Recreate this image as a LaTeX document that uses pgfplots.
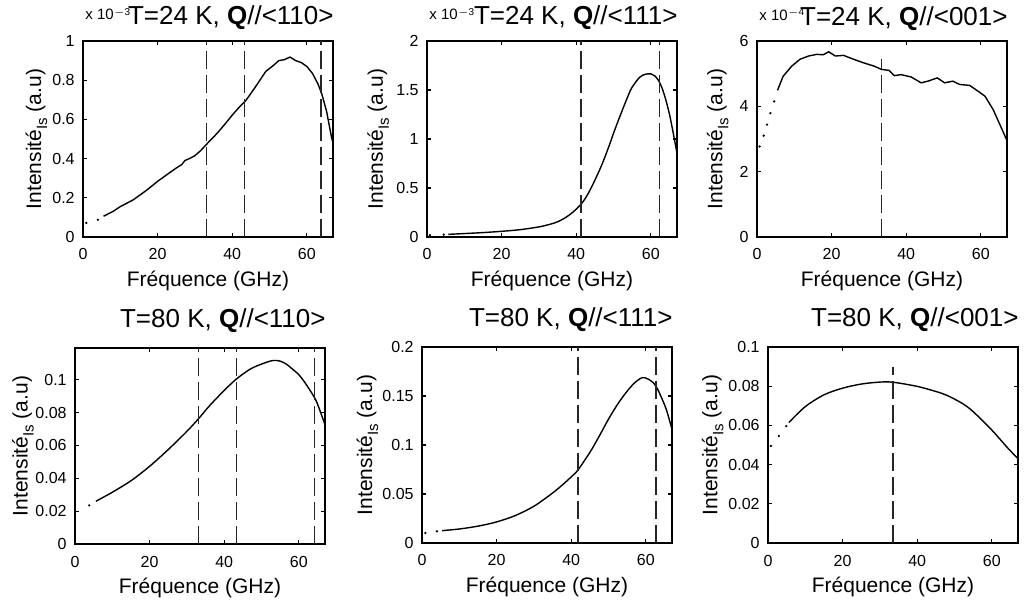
\documentclass[border=0pt]{standalone}
\usepackage{fontspec}
\setmainfont{Liberation Sans}
\usepackage{pgfplots}
\pgfplotsset{compat=1.18}
\pgfplotsset{
  mat/.style={
    scale only axis, width=125pt, height=98pt, anchor=south west,
    clip mode=individual,
    xmin=0, xmax=67, xtick={0,20,40,60}, xticklabels={0,20,40,60},
    tick align=inside, major tick length=2pt,
    axis line style={line width=0.7pt},
    every tick/.style={black, line width=0.6pt},
    /pgf/number format/assume math mode=true,
    tick label style={font=\fontsize{8}{9}\selectfont},
    xticklabel style={anchor=base, yshift=-11.5pt},
    yticklabel style={anchor=east, inner sep=0pt, xshift=-4pt},
    label style={font=\fontsize{10.5}{12}\selectfont},
    xlabel={Fréquence (GHz)},
    xlabel style={at={(axis description cs:0.5,-0.255)}, anchor=base},
    ylabel={Intensité\raisebox{-0.55ex}{\fontsize{7.5}{8}\selectfont Is} (a.u)},
  },
  cur/.style={black, line width=0.7pt},
  dts/.style={black, only marks, mark=*, mark size=0.35pt},
  vl/.style={black!85, line width=0.6pt, dash pattern=on 9pt off 3pt},
}
\newcommand{\mult}[2]{\node[anchor=base west, font=\fontsize{7.5}{8}\selectfont, inner sep=0pt] at ([yshift=10.5pt,xshift=1pt]#1.north west) {x 10\raisebox{0.6ex}{\fontsize{5}{5}\selectfont $-$#2}};}
\newcommand{\ttl}[3]{\node[anchor=base east, font=\fontsize{13}{15}\selectfont, inner sep=0pt] at ([yshift=#2,xshift=0.5pt]#1.north east) {#3};}
\begin{document}
\begin{tikzpicture}
\path[use as bounding box] (0,0) rectangle (512pt,303pt);
% ---------- Panel 1 ----------
\begin{axis}[mat, name=p1, at={(41.5pt,184.5pt)}, ymin=0, ymax=1,
  ytick={0,0.2,0.4,0.6,0.8,1}, yticklabels={0,0.2,0.4,0.6,0.8,1},
  ylabel style={at={(axis description cs:-0.168,0.5)}, anchor=base}]
\addplot[dts] coordinates {(0.9,0.072) (4,0.088)};
\addplot[cur] coordinates {(5.5,0.106) (8,0.13) (10,0.155) (13.5,0.19) (17,0.238) (20,0.284) (23,0.325) (25,0.352) (26.5,0.37) (27.3,0.39) (28.5,0.40) (30,0.415) (31.5,0.44) (33.2,0.475) (36,0.53) (38,0.575) (40,0.622) (42,0.665) (43.6,0.695) (46,0.76) (49,0.845) (51,0.875) (52.5,0.9) (54,0.905) (55.5,0.918) (57,0.9) (58.5,0.89) (60,0.87) (61.5,0.835) (63,0.78) (64,0.73) (65.3,0.64) (66.6,0.51) (67,0.48)};
\addplot[vl] coordinates {(33.2,0) (33.2,1)};
\addplot[vl] coordinates {(43.2,0) (43.2,1)};
\addplot[vl] coordinates {(63.8,0) (63.8,1)};
\end{axis}
\mult{p1}{3}
\ttl{p1}{8pt}{T=24 K, \textbf{Q}//<110>}
% ---------- Panel 2 ----------
\begin{axis}[mat, name=p2, at={(213.5pt,184.5pt)}, ymin=0, ymax=2,
  ytick={0,0.5,1,1.5,2}, yticklabels={0,0.5,1,1.5,2},
  ylabel style={at={(axis description cs:-0.177,0.5)}, anchor=base}]
\addplot[dts] coordinates {(0.8,0.018) (4.5,0.024)};
\addplot[cur, smooth] coordinates {(5.7,0.027) (10,0.035) (15,0.045) (20,0.058) (25,0.075) (30,0.103) (33,0.13) (35,0.155) (37,0.195) (39,0.25) (41.3,0.335) (43,0.43) (45,0.58) (47,0.75) (49,0.95) (50,1.06) (52,1.26) (54,1.45) (55,1.53) (57,1.63) (58.5,1.66) (60,1.665) (61,1.645) (62,1.6) (63,1.52) (64,1.4) (65,1.25) (66,1.06) (67,0.855)};
\addplot[vl] coordinates {(41.3,0) (41.3,2)};
\addplot[vl] coordinates {(62.4,0) (62.4,2)};
\end{axis}
\mult{p2}{3}
\ttl{p2}{8pt}{T=24 K, \textbf{Q}//<111>}
% ---------- Panel 3 ----------
\begin{axis}[mat, name=p3, at={(378.5pt,184.5pt)}, ymin=0, ymax=6,
  ytick={0,2,4,6}, yticklabels={0,2,4,6},
  ylabel style={at={(axis description cs:-0.139,0.5)}, anchor=base}]
\addplot[dts] coordinates {(0.7,2.77) (1.8,3.1) (2.7,3.44) (3.6,3.79) (4.6,4.15)};
\addplot[cur] coordinates {(5.5,4.49) (7,4.92) (9.3,5.23) (11.5,5.44) (13.8,5.54) (16,5.59) (17.8,5.58) (19.2,5.67) (21,5.54) (23.2,5.56) (25.9,5.44) (28.6,5.33) (31.4,5.23) (33.4,5.13) (35.4,5.10) (36.8,4.94) (38.6,4.97) (41.3,4.9) (44,4.72) (45.8,4.77) (48.3,4.87) (50.3,4.72) (52.5,4.77) (54.3,4.67) (57,4.64) (59.3,4.46) (61.1,4.31) (63.3,3.9) (65.1,3.44) (67,2.95)};
\addplot[vl] coordinates {(33.4,0) (33.4,5.45)};
\end{axis}
\mult{p3}{4}
\ttl{p3}{8pt}{T=24 K, \textbf{Q}//<001>}
% ---------- Panel 4 ----------
\begin{axis}[mat, name=p4, at={(37.5pt,31pt)}, ymin=0, ymax=0.1193,
  ytick={0,0.02,0.04,0.06,0.08,0.1}, yticklabels={0,0.02,0.04,0.06,0.08,0.1},
  ylabel style={at={(axis description cs:-0.19,0.5)}, anchor=base}]
\addplot[dts] coordinates {(3.8,0.0235)};
\addplot[cur, smooth] coordinates {(5.6,0.026) (10,0.0315) (15,0.0385) (20,0.0473) (25,0.0575) (30,0.0686) (33.2,0.0765) (36,0.084) (40,0.0935) (43.3,0.1005) (47,0.1065) (50,0.1095) (53,0.1117) (55,0.1113) (56.5,0.1097) (58,0.107) (60,0.103) (62,0.097) (64.5,0.0878) (66,0.079) (67,0.0726)};
\addplot[vl] coordinates {(33.2,0) (33.2,0.1193)};
\addplot[vl] coordinates {(43.3,0) (43.3,0.1193)};
\addplot[vl] coordinates {(64.1,0) (64.1,0.1193)};
\end{axis}
\ttl{p4}{10pt}{T=80 K, \textbf{Q}//<110>}
% ---------- Panel 5 ----------
\begin{axis}[mat, name=p5, at={(211pt,31.5pt)}, ymin=0, ymax=0.2,
  ytick={0,0.05,0.1,0.15,0.2}, yticklabels={0,0.05,0.1,0.15,0.2},
  ylabel style={at={(axis description cs:-0.2,0.5)}, anchor=base}]
\addplot[dts] coordinates {(0.9,0.0102) (4,0.0119)};
\addplot[cur, smooth] coordinates {(5.4,0.0126) (10,0.0143) (15,0.0172) (20,0.0215) (25,0.0280) (30,0.0375) (35,0.051) (38,0.0605) (40,0.0675) (41.8,0.0745) (45,0.0925) (47.5,0.109) (50,0.1265) (52.5,0.142) (55,0.155) (57,0.1635) (59,0.1687) (60.5,0.1675) (62,0.1635) (63,0.158) (64,0.15) (65.5,0.136) (67,0.116)};
\addplot[vl] coordinates {(41.8,0) (41.8,0.2)};
\addplot[vl] coordinates {(62.7,0) (62.7,0.2)};
\end{axis}
\ttl{p5}{10pt}{T=80 K, \textbf{Q}//<111>}
% ---------- Panel 6 ----------
\begin{axis}[mat, name=p6, at={(384pt,31.5pt)}, ymin=0, ymax=0.1,
  ytick={0,0.02,0.04,0.06,0.08,0.1}, yticklabels={0,0.02,0.04,0.06,0.08,0.1},
  ylabel style={at={(axis description cs:-0.203,0.5)}, anchor=base}]
\addplot[dts] coordinates {(0.8,0.0495) (2.9,0.0546) (4.9,0.0596)};
\addplot[cur, smooth] coordinates {(5.6,0.0615) (10,0.0696) (15,0.0756) (20,0.079) (25,0.0811) (30,0.0821) (33.6,0.082) (40,0.0799) (45,0.0773) (48,0.0753) (52,0.0713) (55,0.067) (60,0.0576) (64,0.049) (67,0.043)};
\addplot[vl] coordinates {(33.5,0) (33.5,0.09)};
\end{axis}
\ttl{p6}{10pt}{T=80 K, \textbf{Q}//<001>}
\end{tikzpicture}
\end{document}
